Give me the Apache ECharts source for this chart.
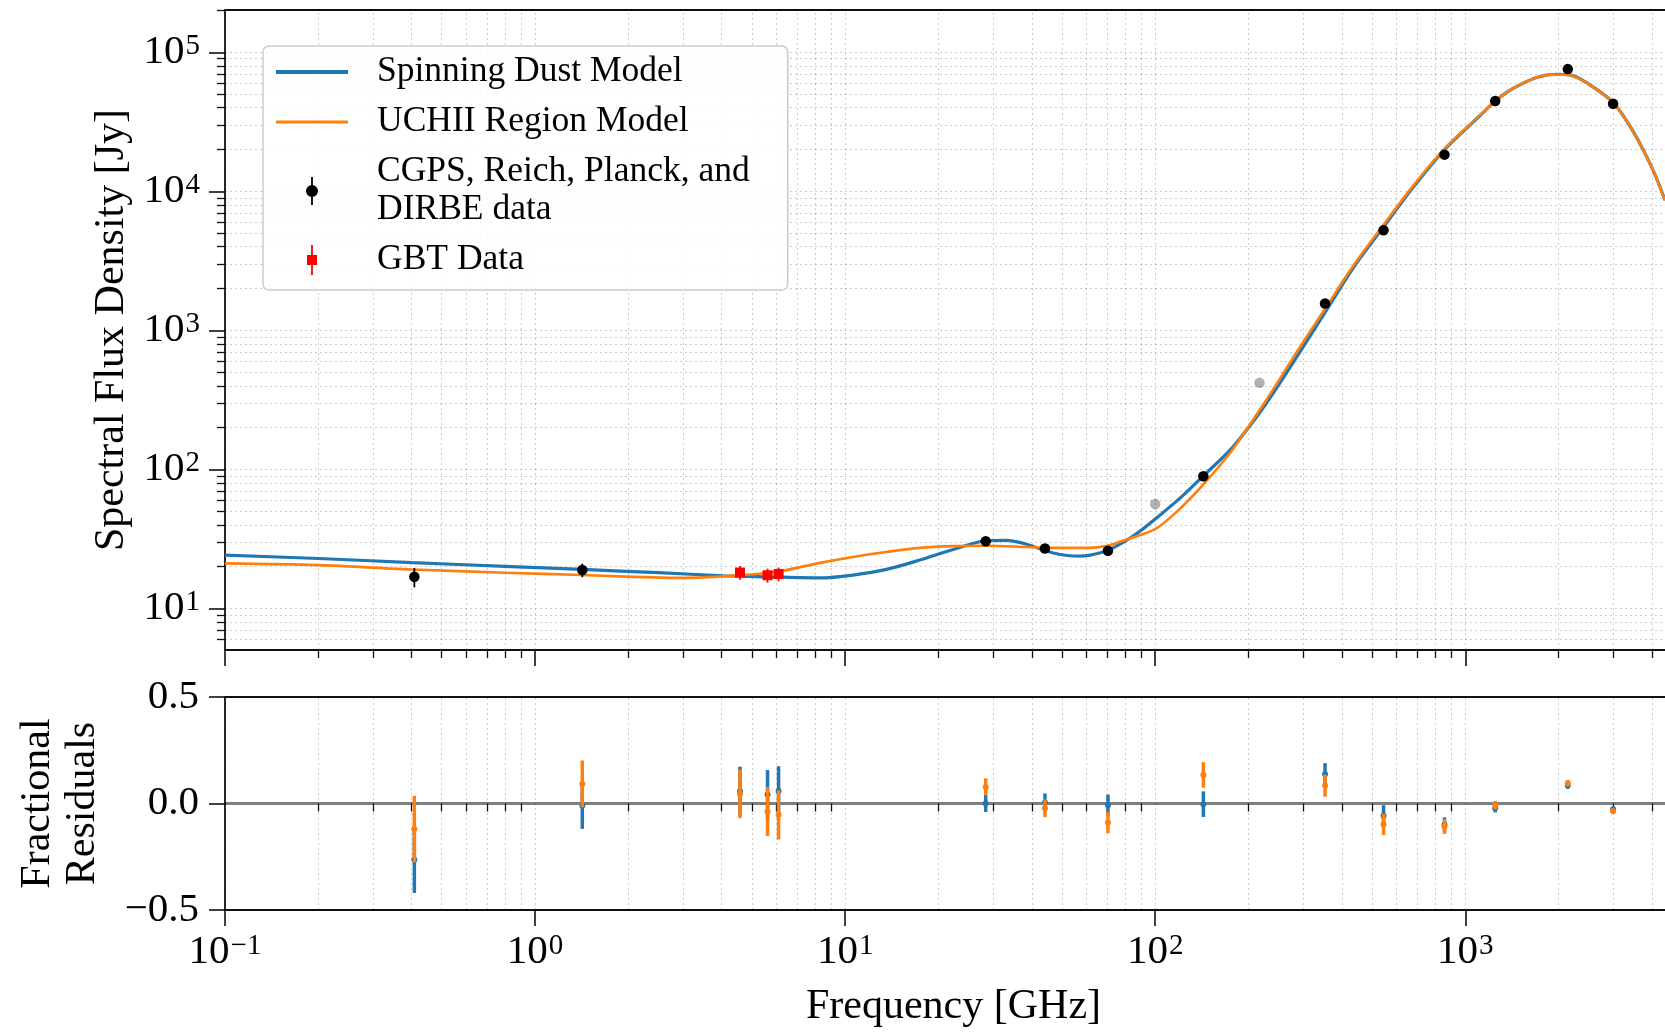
<!DOCTYPE html>
<html><head><meta charset="utf-8">
<script src="https://cdn.jsdelivr.net/npm/echarts@6/dist/echarts.min.js"></script>
<style>html,body{margin:0;padding:0;background:#fff}#c{width:1665px;height:1032px}</style>
</head><body><div id="c"></div>
<script>
const FONT = '"Liberation Serif", "Times New Roman", serif';

// ---- Model curves: [frequency GHz, flux Jy] ----
const spinningDustModel = [
  [0.1, 24.2], [0.2, 22.9], [0.4, 21.4], [0.8, 20.1], [1.42, 19.1], [2.5, 18.1], [4.05, 17.2],
  [5.6, 16.9], [8.3, 16.6], [10.6, 17.4], [13.6, 19.1], [17.4, 22.3], [22.3, 26.6], [28.6, 30.7],
  [33.2, 30.9], [38.5, 29.0], [46.9, 25.1], [57.2, 23.8], [68, 25.5], [77, 29.0], [89, 35.8],
  [100, 44], [120, 62], [143, 90], [178, 145], [228, 298], [293, 700], [353, 1348], [437, 2860],
  [545, 5560], [680, 10750], [857, 20000], [1114, 35000], [1249, 44600], [1427, 55000],
  [1698, 66000], [1970, 69600], [2173, 68800], [2460, 60500], [2998, 43500], [3478, 27000],
  [4036, 14170], [4406, 8628]
];
const uchiiModel = [
  [0.1, 21.1], [0.2, 20.5], [0.4, 19.1], [0.8, 18.1], [1.42, 17.4], [2.95, 16.6], [4.54, 17.3],
  [6.2, 18.6], [8.3, 21.3], [10.6, 23.5], [13.6, 25.5], [17.4, 27.3], [22.3, 28.1], [28.6, 28.3],
  [38.5, 27.7], [46.9, 27.3], [60.3, 27.3], [70.2, 28.3], [80.9, 31.4], [100.6, 37.6], [120, 52],
  [143, 78], [178, 140], [228, 315], [293, 760], [353, 1430], [437, 2950], [545, 5750],
  [680, 11000], [857, 20300], [1114, 35200], [1249, 44600], [1427, 55000], [1698, 66000],
  [1970, 69300], [2173, 68500], [2460, 60300], [2998, 43500], [3478, 27000], [4036, 14170],
  [4406, 8628]
];

// ---- Measured data ----
const dataFreq = [0.408, 1.42, 28.4, 44.1, 70.4, 143, 353, 545, 857, 1249, 2141, 2998];
const dataFlux = [16.9, 18.9, 30.5, 27.0, 26.0, 89.5, 1560, 5250, 18380, 44630, 75800, 42760];
const dataErr  = [2.7, 2.1, 1.2, 1.1, 1.3, 5.4, 81, 260, 640, 890, 1140, 560];
const gbtFreq = [4.58, 5.62, 6.1];
const gbtFlux = [18.15, 17.35, 17.7];
const gbtErr  = [2.06, 2.0, 2.03];
const excludedFreq = [100, 217];
const excludedFlux = [56.5, 420];

// ---- Fractional residuals ----
const residFreq = [0.408, 1.42, 4.58, 5.62, 6.1, 28.4, 44.1, 70.4, 143, 353, 545, 857, 1249, 2141, 2998];
const residSpinning = [-0.264, -0.009, 0.059, 0.042, 0.059, 0.0, 0.005, -0.008, -0.003, 0.1375, -0.058, -0.10, -0.022, 0.084, -0.027];
const residUchii    = [-0.12, 0.092, 0.045, -0.0375, -0.053, 0.078, -0.022, -0.089, 0.134, 0.084, -0.098, -0.108, -0.008, 0.095, -0.036];
const residErr      = [0.156, 0.11, 0.114, 0.115, 0.116, 0.04, 0.042, 0.05, 0.06, 0.052, 0.05, 0.035, 0.02, 0.015, 0.013];

// ---- Ticks ----
const xMajorTicks = [0.1, 1, 10, 100, 1000];
const xMinorTicks = [0.2,0.3,0.4,0.5,0.6,0.7,0.8,0.9, 2,3,4,5,6,7,8,9, 20,30,40,50,60,70,80,90,
                     200,300,400,500,600,700,800,900, 2000,3000,4000,5000];
const yMajorTicks = [10, 100, 1000, 10000, 100000];
const yMinorTicks = [6,7,8,9, 20,30,40,50,60,70,80,90, 200,300,400,500,600,700,800,900,
                     2000,3000,4000,5000,6000,7000,8000,9000, 20000,30000,40000,50000,60000,70000,80000,90000, 200000];
const residTicks = [-0.5, 0, 0.5];

const C_BLUE = '#1f77b4', C_ORANGE = '#ff7f0e', C_RED = '#ff0000';
const LBL_DATA = 'CGPS, Reich, Planck, and\nDIRBE data';

function logLabel(v) {
  const e = Math.round(Math.log10(v));
  return '{b|10}{s|' + (e < 0 ? '\u2212' + (-e) : e) + '}';
}
const logRich = {
  b: {fontFamily: FONT, fontSize: 41, lineHeight: 41, color: '#000', verticalAlign: 'bottom'},
  s: {fontFamily: FONT, fontSize: 29, lineHeight: 29, color: '#000', verticalAlign: 'top', padding: [0, 0, 17, 1]}
};

const spine = {show: true, onZero: false, lineStyle: {color: '#111', width: 1.8}};
const tickMaj = (vals) => ({show: true, inside: false, length: 16, customValues: vals, lineStyle: {color: '#111', width: 1.6}});
const tickMin = (vals) => ({show: true, inside: false, length: 8, customValues: vals, lineStyle: {color: '#111', width: 1.3}});

const xBase = {type: 'log', logBase: 10, min: 0.1, max: 5000, splitLine: {show: false}, minorTick: {show: false}};
const yLogBase = {type: 'log', logBase: 10, min: 5.03, max: 201700, splitLine: {show: false}, minorTick: {show: false}};

const gridStyle = {color: 'rgba(0,0,0,0.2)', width: 1, type: [2, 3]};

function errorBarRender(color, lineW, shape, size) {
  return function (params, api) {
    const x = api.value(0), y = api.value(1), e = api.value(2);
    const p = api.coord([x, y]);
    const lo = api.coord([x, y - e]);
    const hi = api.coord([x, y + e]);
    const children = [{type: 'line', shape: {x1: p[0], y1: lo[1], x2: p[0], y2: hi[1]},
                       style: {stroke: color, lineWidth: lineW}}];
    if (shape === 'circle') {
      children.push({type: 'circle', shape: {cx: p[0], cy: p[1], r: size / 2}, style: {fill: color}});
    } else if (shape === 'rect') {
      children.push({type: 'rect', shape: {x: p[0] - size / 2, y: p[1] - size / 2, width: size, height: size}, style: {fill: color}});
    }
    return {type: 'group', children: children};
  };
}

const chart = echarts.init(document.getElementById('c'), null, {renderer: 'canvas'});
const option = {
  animation: false,
  backgroundColor: '#ffffff',
  textStyle: {fontFamily: FONT},
  grid: [
    {left: 225, top: 10, width: 1457, height: 640, containLabel: false, outerBoundsMode: 'none'},
    {left: 225, top: 697, width: 1457, height: 213, containLabel: false, outerBoundsMode: 'none'}
  ],
  legend: {
    orient: 'vertical', left: 263, top: 46, padding: [7, 38, 11, 13], itemGap: 12,
    itemWidth: 72, itemHeight: 36, selectedMode: false,
    backgroundColor: 'rgba(255,255,255,0.85)', borderColor: '#cccccc', borderWidth: 1.5, borderRadius: 6,
    textStyle: {fontFamily: FONT, fontSize: 35.5, color: '#000', lineHeight: 38, padding: [0, 0, 0, 24]},
    data: [
      {name: 'Spinning Dust Model', icon: 'path://M0,0M72,36M0,16h72v4h-72z'},
      {name: 'UCHII Region Model', icon: 'path://M0,0M72,36M0,16.5h72v3h-72z'},
      {name: LBL_DATA, icon: 'path://M0,0M72,36M35.1,4h1.8v28h-1.8zM42,18a6,6 0 1,1 -12,0a6,6 0 1,1 12,0z'},
      {name: 'GBT Data', icon: 'path://M0,0M72,36M35.1,3h1.8v30h-1.8zM31,13h10v10h-10z'}
    ]
  },
  xAxis: [
    Object.assign({}, xBase, {gridIndex: 0, position: 'bottom', axisLine: spine, axisTick: tickMaj(xMajorTicks), axisLabel: {show: false}}),
    Object.assign({}, xBase, {gridIndex: 0, position: 'bottom', axisLine: {show: false}, axisTick: tickMin(xMinorTicks), axisLabel: {show: false}}),
    Object.assign({}, xBase, {gridIndex: 0, position: 'top', axisLine: spine, axisTick: {show: false}, axisLabel: {show: false}}),
    Object.assign({}, xBase, {gridIndex: 1, position: 'bottom', axisLine: spine, axisTick: tickMaj(xMajorTicks),
      axisLabel: {show: true, customValues: xMajorTicks, margin: 22, formatter: logLabel, rich: logRich},
      name: 'Frequency [GHz]', nameLocation: 'middle', nameGap: 76,
      nameTextStyle: {fontFamily: FONT, fontSize: 42, color: '#000'}}),
    Object.assign({}, xBase, {gridIndex: 1, position: 'bottom', axisLine: {show: false}, axisTick: tickMin(xMinorTicks), axisLabel: {show: false}}),
    Object.assign({}, xBase, {gridIndex: 1, position: 'top', axisLine: spine, axisTick: {show: false}, axisLabel: {show: false}})
  ],
  yAxis: [
    Object.assign({}, yLogBase, {gridIndex: 0, position: 'left', axisLine: spine, axisTick: tickMaj(yMajorTicks),
      axisLabel: {show: true, customValues: yMajorTicks, margin: 25, formatter: logLabel, rich: logRich},
      name: 'Spectral Flux Density [Jy]', nameLocation: 'middle', nameGap: 88, nameRotate: 90,
      nameTextStyle: {fontFamily: FONT, fontSize: 42, color: '#000'}}),
    Object.assign({}, yLogBase, {gridIndex: 0, position: 'left', axisLine: {show: false}, axisTick: tickMin(yMinorTicks), axisLabel: {show: false}}),
    {type: 'value', gridIndex: 1, position: 'left', min: -0.5, max: 0.5, interval: 0.5,
      splitLine: {show: false}, axisLine: spine, axisTick: {show: true, length: 16, lineStyle: {color: '#111', width: 1.6}},
      axisLabel: {show: true, margin: 26, fontFamily: FONT, fontSize: 41, color: '#000',
        formatter: function (v) { return (v < 0 ? '\u2212' : '') + Math.abs(v).toFixed(1); }},
      name: 'Fractional\nResiduals', nameLocation: 'middle', nameGap: 120, nameRotate: 90,
      nameTextStyle: {fontFamily: FONT, fontSize: 42, lineHeight: 45, color: '#000'}}
  ],
  series: [
    {type: 'line', name: '_grid_top', xAxisIndex: 0, yAxisIndex: 0, data: [], silent: true,
      markLine: {silent: true, z: 1, animation: false, symbol: ['none', 'none'], label: {show: false},
        lineStyle: gridStyle, emphasis: {disabled: true},
        data: xMajorTicks.concat(xMinorTicks).map(v => ({xAxis: v}))
          .concat(yMajorTicks.concat(yMinorTicks).map(v => ({yAxis: v})))}},
    {type: 'line', name: '_grid_bottom', xAxisIndex: 3, yAxisIndex: 2, data: [], silent: true,
      markLine: {silent: true, z: 1, animation: false, symbol: ['none', 'none'], label: {show: false},
        lineStyle: gridStyle, emphasis: {disabled: true},
        data: xMajorTicks.concat(xMinorTicks).map(v => ({xAxis: v}))}},
    {type: 'line', name: '_zero', xAxisIndex: 3, yAxisIndex: 2, data: [], silent: true,
      markLine: {silent: true, z: 1, animation: false, symbol: ['none', 'none'], label: {show: false},
        lineStyle: {color: 'rgba(0,0,0,0.5)', width: 3, type: 'solid'}, emphasis: {disabled: true},
        data: [{yAxis: 0}]}},
    {type: 'line', name: 'Spinning Dust Model', xAxisIndex: 0, yAxisIndex: 0, data: spinningDustModel,
      symbol: 'none', smooth: 0.3, color: C_BLUE, lineStyle: {color: C_BLUE, width: 3.2}, z: 3},
    {type: 'line', name: 'UCHII Region Model', xAxisIndex: 0, yAxisIndex: 0, data: uchiiModel,
      symbol: 'none', smooth: 0.3, color: C_ORANGE, lineStyle: {color: C_ORANGE, width: 2.6}, z: 4},
    {type: 'custom', name: '_excluded', xAxisIndex: 0, yAxisIndex: 0, z: 5,
      renderItem: errorBarRender('rgba(0,0,0,0.3)', 1.8, 'circle', 10.5),
      data: excludedFreq.map((f, i) => [f, excludedFlux[i], 0])},
    {type: 'custom', name: LBL_DATA, xAxisIndex: 0, yAxisIndex: 0, z: 6, itemStyle: {color: '#000'},
      renderItem: errorBarRender('#000', 1.8, 'circle', 10.5),
      data: dataFreq.map((f, i) => [f, dataFlux[i], dataErr[i]])},
    {type: 'custom', name: 'GBT Data', xAxisIndex: 0, yAxisIndex: 0, z: 6, itemStyle: {color: C_RED},
      renderItem: errorBarRender(C_RED, 1.8, 'rect', 10),
      data: gbtFreq.map((f, i) => [f, gbtFlux[i], gbtErr[i]])},
    {type: 'custom', name: '_resid_spinning', xAxisIndex: 3, yAxisIndex: 2, z: 5, itemStyle: {color: C_BLUE},
      renderItem: errorBarRender(C_BLUE, 3.5, 'circle', 6),
      data: residFreq.map((f, i) => [f, residSpinning[i], residErr[i]])},
    {type: 'custom', name: '_resid_uchii', xAxisIndex: 3, yAxisIndex: 2, z: 6, itemStyle: {color: C_ORANGE},
      renderItem: errorBarRender(C_ORANGE, 3.5, 'circle', 6),
      data: residFreq.map((f, i) => [f, residUchii[i], residErr[i]])}
  ]
};
chart.setOption(option);
</script>
</body></html>
